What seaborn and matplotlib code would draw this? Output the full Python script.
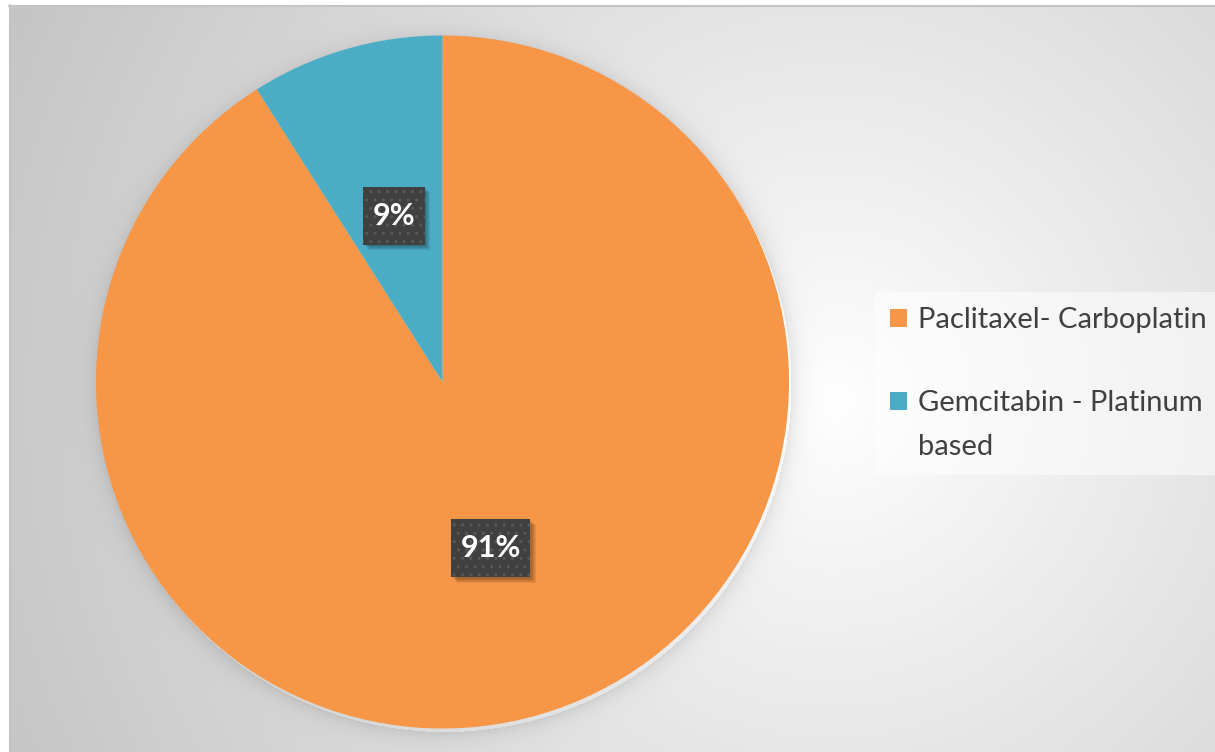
import numpy as np
import matplotlib
matplotlib.use("Agg")
import matplotlib.pyplot as plt
from matplotlib.patches import Patch, Rectangle
from matplotlib.path import Path
from matplotlib.legend_handler import HandlerPatch
import seaborn as sns

# Share of patients by first-line chemotherapy regimen
regimens = ["Paclitaxel- Carboplatin", "Gemcitabin - Platinum\nbased"]
shares = [91, 9]
colors = ["#F79646", "#4BACC6"]

sns.set_theme(style="white")
plt.rcParams["font.family"] = ["Lato", "DejaVu Sans"]

W, H = 1215, 752
fig = plt.figure(figsize=(W / 100, H / 100), dpi=100)
fig.patch.set_facecolor("white")

# pie geometry in pixels (centre and radius)
cx, cy, R = 442.5, 382.0, 346.5

# radial grey-to-white background with a soft halo under the pie
bg = fig.add_axes([0, 0, 1, 1], zorder=0)
yy, xx = np.mgrid[0:H, 0:W].astype(float)
d = np.hypot(xx - 830, yy - 400)
val = 255 - 58 * (d / 900) ** 0.95
r = np.hypot(xx - cx - 2, yy - cy - 3)
val = val - np.where(r > R, 22 * np.exp(-(r - R) / 9), 0)
val = np.clip(val, 0, 255)
val[:5, :] = 255
val[:, :9] = 255
img = np.dstack([val] * 3) / 255
bg.imshow(img, extent=(0, W, H, 0), aspect="auto", interpolation="bilinear")
bg.plot([9.5, 9.5], [5, H], color="#c4c4c4", lw=1.5)
bg.plot([9, W], [5.5, 5.5], color="#c4c4c4", lw=1.5)
bg.set_xlim(0, W)
bg.set_ylim(H, 0)
bg.axis("off")

# pie chart
ax = fig.add_axes([(cx - R) / W, (H - cy - R) / H, 2 * R / W, 2 * R / H], zorder=1)
ax.patch.set_alpha(0)
wedges, texts, autotexts = ax.pie(
    shares,
    colors=colors,
    startangle=90,
    counterclock=False,
    autopct=lambda p: f"{round(p)}%",
    pctdistance=0.5,
    radius=1,
    wedgeprops=dict(linewidth=0),
)
ax.set_xlim(-1, 1)
ax.set_ylim(-1, 1)
ax.axis("off")


def label_box(x0, y0, width, height, mutation_size):
    """Rectangle with more vertical than horizontal padding."""
    px, py = 0.31 * mutation_size, 0.49 * mutation_size
    x0, y0 = x0 - px, y0 - py
    x1, y1 = x0 + width + 2 * px, y0 + height + 2 * py
    return Path([(x0, y0), (x1, y0), (x1, y1), (x0, y1), (x0, y0)], closed=True)


for t in autotexts:
    t.set(fontsize=22, fontweight="bold", color="white", zorder=5)
    t.set_bbox(dict(boxstyle=label_box, facecolor="#404040",
                    edgecolor="#595959", hatch="..", linewidth=0))

# soft drop shadow behind each label box: faint offset rectangles
fig.canvas.draw()
for t in autotexts:
    ext = t.get_bbox_patch().get_window_extent()
    for o in (1.5, 2.5, 3.5, 4.5, 5.5):
        ax.add_patch(Rectangle((ext.x0 + o, ext.y0 - o), ext.width, ext.height,
                               transform=None, facecolor="black", alpha=0.07,
                               linewidth=0, zorder=4))


# legend marker sits on the first line of a wrapped label
class FirstLineHandler(HandlerPatch):
    def __init__(self, line_px, **kw):
        super().__init__(**kw)
        self.line_px = line_px

    def create_artists(self, legend, orig_handle, xdescent, ydescent,
                       width, height, fontsize, trans):
        n = len(orig_handle.get_label().split("\n"))
        shift = (n - 1) / 2 * self.line_px * 72 / fig.dpi
        p = Rectangle((-xdescent, -ydescent + shift), width, height,
                      facecolor=orig_handle.get_facecolor(), edgecolor="none")
        p.set_transform(trans)
        return [p]


handles = [Patch(facecolor=c, edgecolor="none", label=lab)
           for c, lab in zip(colors, regimens)]
handler = FirstLineHandler(48)
leg = fig.legend(
    handles, regimens,
    loc="center left",
    bbox_to_anchor=(875 / W, 1 - 383.5 / H),
    fontsize=21,
    handlelength=0.55,
    handleheight=0.55,
    handletextpad=0.41,
    labelspacing=1.93,
    borderpad=0.53,
    borderaxespad=0,
    frameon=True,
    fancybox=False,
    handler_map={h: handler for h in handles},
)
leg.get_frame().set_facecolor("white")
leg.get_frame().set_alpha(0.5)
leg.get_frame().set_edgecolor("none")
for t in leg.get_texts():
    t.set_color("#404040")
    t.set_linespacing(1.85)

fig.savefig("out.png", dpi=100)
